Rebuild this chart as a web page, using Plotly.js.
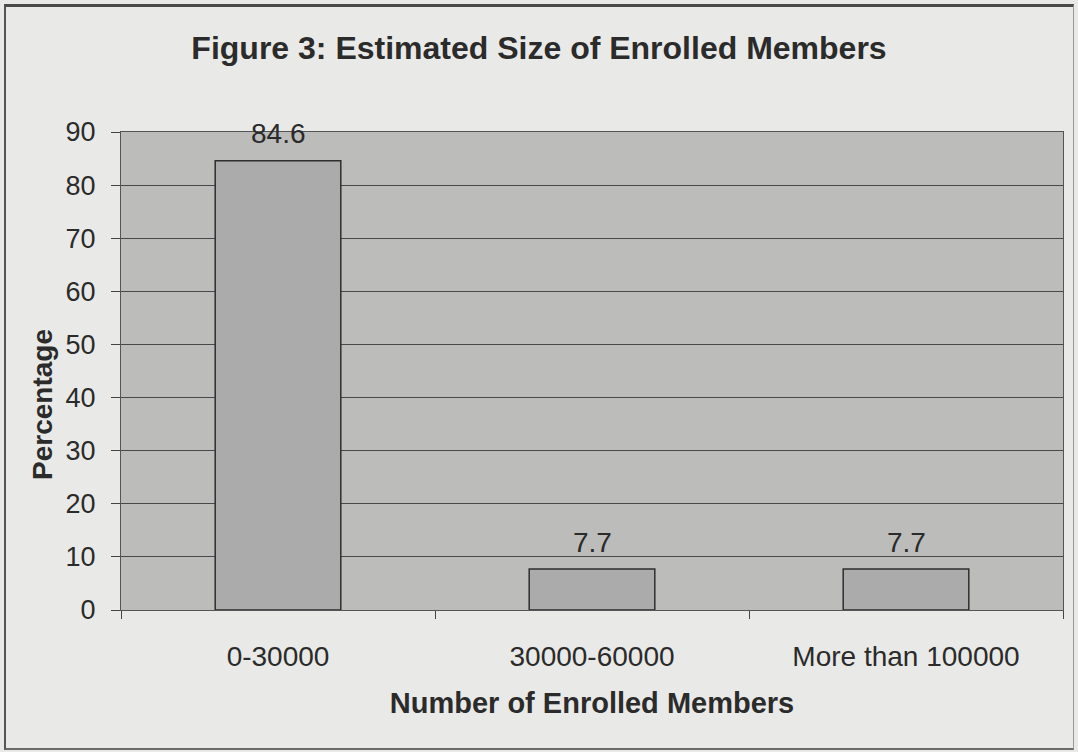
<!DOCTYPE html>
<html>
<head>
<meta charset="utf-8">
<script src="https://cdn.plot.ly/plotly-3.0.1.min.js"></script>
<style>
  html, body { margin: 0; padding: 0; background: #e9e9e7; }
  #wrap { position: relative; width: 1078px; height: 752px; overflow: hidden; }
  #chart { position: absolute; left: 0; top: 0; width: 1078px; height: 752px; }
  /* printed frame around the figure */
  #frame {
    position: absolute; left: 4px; top: 4px; width: 1067px; height: 741px;
    border-top: 3px solid #4a4a4a; border-left: 2px solid #555;
    border-bottom: 2px solid #6a6a6a; border-right: 1px solid #9a9a9a;
    pointer-events: none;
  }
</style>
</head>
<body>
<div id="wrap">
  <div id="chart"></div>
  <div id="frame"></div>
</div>
<script>
// Enrolled-member size bands and their share of respondents (%)
const categories = ['0-30000', '30000-60000', 'More than 100000'];
const percentages = [84.6, 7.7, 7.7];
const yTicks = [0, 10, 20, 30, 40, 50, 60, 70, 80, 90];

const FONT = 'Liberation Sans, Arial, sans-serif';
const INK = '#2b2b2b';

const bars = {
  type: 'bar',
  x: categories,
  y: percentages,
  width: 0.4,
  marker: { color: '#ababab', line: { color: '#2e2e2e', width: 1.5 } },
  hoverinfo: 'x+y',
  showlegend: false
};

// value labels above each bar, positioned from the same values
const valueLabels = categories.map((c, i) => ({
  x: c, y: percentages[i], xref: 'x', yref: 'y',
  text: String(percentages[i]), showarrow: false,
  yanchor: 'middle', yshift: 27,
  font: { family: FONT, size: 28, color: INK }
}));

const layout = {
  width: 1078, height: 752,
  margin: { l: 121, r: 15, t: 132, b: 142 },
  paper_bgcolor: 'rgba(0,0,0,0)',
  plot_bgcolor: '#bcbcba',
  title: {
    text: '<b>Figure 3: Estimated Size of Enrolled Members</b>',
    font: { family: FONT, size: 32, color: INK },
    x: 0.5, xref: 'container', xanchor: 'center',
    y: 1 - 48 / 752, yref: 'container', yanchor: 'middle'
  },
  xaxis: {
    type: 'category',
    tickson: 'boundaries',
    ticks: 'outside', ticklen: 8, tickcolor: '#444', tickwidth: 1,
    ticklabelstandoff: 21,
    tickfont: { family: FONT, size: 28, color: INK },
    showline: true, linecolor: '#555', linewidth: 1, mirror: true,
    showgrid: false, zeroline: false,
    title: {
      text: '<b>Number of Enrolled Members</b>',
      font: { family: FONT, size: 29, color: INK },
      standoff: 22
    }
  },
  yaxis: {
    range: [0, 90],
    tickvals: yTicks,
    ticktext: yTicks.map(String),
    ticks: 'outside', ticklen: 9, tickcolor: '#444', tickwidth: 1,
    ticklabelstandoff: 10,
    tickfont: { family: FONT, size: 27, color: INK },
    showline: true, linecolor: '#555', linewidth: 1, mirror: true,
    showgrid: true, gridcolor: '#484848', gridwidth: 1.2,
    zeroline: false
  },
  annotations: valueLabels.concat([{
    text: '<b>Percentage</b>', textangle: -90, showarrow: false,
    xref: 'paper', yref: 'paper',
    x: (42 - 121) / 942, y: (610 - 405) / 478,
    xanchor: 'center', yanchor: 'middle',
    font: { family: FONT, size: 28, color: INK }
  }])
};

Plotly.newPlot('chart', [bars], layout, { displayModeBar: false, staticPlot: true });
</script>
</body>
</html>
